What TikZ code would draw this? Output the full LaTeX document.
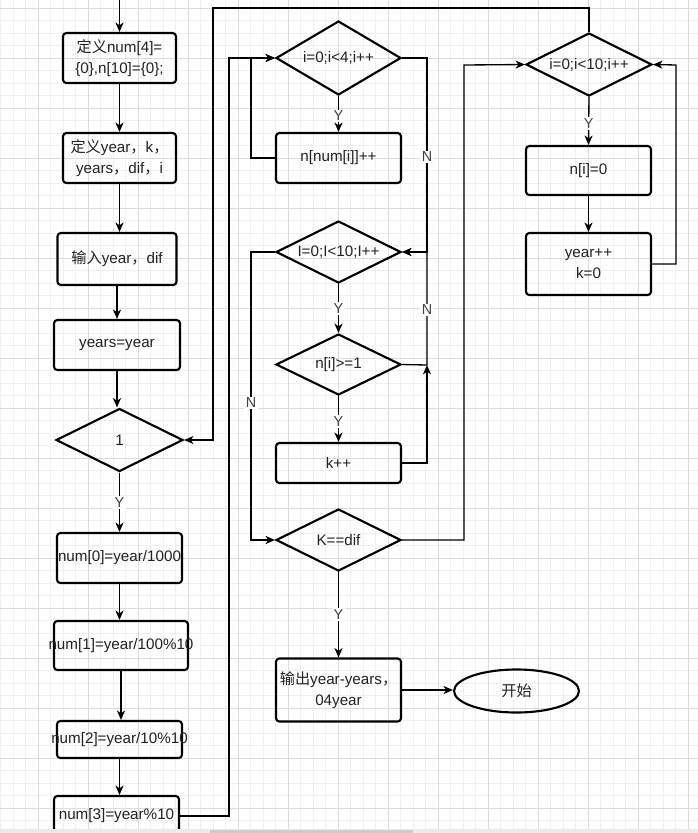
\documentclass[tikz,border=0pt]{standalone}
\usepackage{fontspec}
\setmainfont{Liberation Sans}
\newfontfamily\cjk{Noto Sans CJK SC}
\usetikzlibrary{arrows.meta,shapes.geometric}
\newdimen\px \px=0.75pt
\newcommand\T[1]{\makebox[0pt]{#1}}
\definecolor{gridminor}{HTML}{F0F0F0}
\definecolor{gridmajor}{HTML}{DCDCDC}
\definecolor{txt}{HTML}{222222}
\begin{document}
\begin{tikzpicture}[x=0.75pt,y=-0.75pt,
  box/.style args={#1/#2}{draw, line width=1.6pt, rounded corners=2.5pt, rectangle,
    minimum width=#1\px, minimum height=#2\px, inner sep=0pt, align=center,
    font=\fontsize{11.4}{15.5}\selectfont, text=txt},
  dia/.style args={#1/#2}{draw, diamond, line width=1.6pt,
    minimum width=#1\px, minimum height=#2\px, inner sep=0pt, align=center,
    font=\fontsize{11.4}{15.5}\selectfont, text=txt},
  term/.style args={#1/#2}{draw, ellipse, line width=1.6pt,
    minimum width=#1\px, minimum height=#2\px, inner sep=0pt,
    font=\fontsize{11.4}{15.5}\selectfont, text=txt},
  con/.style={line width=1pt, -{Stealth[length=7pt,width=6pt,inset=2pt]}},
  lab/.style={fill=white, inner sep=1pt, font=\fontsize{10.8}{12}\selectfont, text=black!75}]
\useasboundingbox (0,0) rectangle (698,833);
\fill[white] (0,0) rectangle (698,833);
% grid
\foreach \gx in {0.5,13,...,698} \draw[gridminor, line width=0.5pt] (\gx,0) -- (\gx,833);
\foreach \gy in {8,20.5,...,833} \draw[gridminor, line width=0.5pt] (0,\gy) -- (698,\gy);
\foreach \gx in {38,88,...,698} \draw[gridmajor, line width=0.6pt] (\gx,0) -- (\gx,833);
\foreach \gy in {8,58,...,833} \draw[gridmajor, line width=0.6pt] (0,\gy) -- (698,\gy);

% left column
\node[box=113/50] (b1) at (119.5,58) {\T{{\cjk 定义}num[4]=}\\\T{\{0\},n[10]=\{0\};}};
\node[box=113/50] (b2) at (119.5,158) {\T{{\cjk 定义}year{\cjk ，}k{\cjk ，}}\\\T{years{\cjk ，}dif{\cjk ，}i}};
\node[box=119/52] (b3) at (117,259) {\T{{\cjk 输入}year{\cjk ，}dif}};
\node[box=126/50] (b4) at (117,345) {\T{years=year}};
\node[dia=127/63] (d1) at (119.5,440) {\T{1}};
\node[box=125/50] (b5) at (119.5,558) {\T{num[0]=year/1000}};
\node[box=134/49] (b6) at (121,645.5) {\T{num[1]=year/100\%10}};
\node[box=125/37] (b7) at (119.5,739.5) {\T{num[2]=year/10\%10}};
\node[box=125/40] (b8) at (116.5,816) {\T{num[3]=year\%10}};

% middle column
\node[dia=125/74] (dA) at (338.5,58) {\T{i=0;i<4;i++}};
\node[box=125/50] (bA1) at (338.5,158) {\T{n[num[i]]++}};
\node[dia=125/62] (dB) at (338.5,252) {\T{I=0;I<10;I++}};
\node[dia=125/61] (dC) at (338.5,364.5) {\T{n[i]>=1}};
\node[box=125/40] (bK) at (338.5,463) {\T{k++}};
\node[dia=125/62] (dD) at (338.5,540) {\T{K==dif}};
\node[box=125/63] (bF) at (338.5,690) {\T{{\cjk 输出}year-years{\cjk ，}}\\\T{04year}};
\node[term=125/43] (ell) at (516.5,691) {\cjk 开始};

% right column
\node[dia=126/63] (dE) at (589,64.5) {\T{i=0;i<10;i++}};
\node[box=125/49] (bE1) at (588.5,170.5) {\T{n[i]=0}};
\node[box=125/62] (bE2) at (588.5,264) {\T{year++}\\\T{k=0}};

% helper coordinates
\coordinate (start) at (119.5,0);
\coordinate (t1) at (213,8);
\coordinate (c229) at (229,58);
\coordinate (c251a) at (251,58);
\coordinate (c251b) at (251,252);
\coordinate (c427a) at (427,58);
\coordinate (c427c) at (427,365);
\coordinate (c464) at (464,65);
\coordinate (c676) at (676,65);

% left column connectors
\draw[con] (start) -- (b1.north);
\draw[con] (b1.south) -- (b1.south |- b2.north);
\draw[con] (b2.south) -- (b2.south |- b3.north);
\draw[con] (b3.south) -- (b3.south |- b4.north);
\draw[con] (b4.south) -- (b4.south |- d1.north);
\draw[con] (d1.south) -- node[lab, pos=0.5] {Y} (d1.south |- b5.north);
\draw[con] (b5.south) -- (b5.south |- b6.north);
\draw[con] (b6.south) -- (b6.south |- b7.north);
\draw[con] (b7.south) -- (b7.south |- b8.north);

% loops
\draw[con] (dE.north) |- (t1) |- (d1.east);
\draw[con] (b8.east) -| (c229) -- (dA.west);
\draw[con] (bA1.west) -| (c251a) -- (dA.west);
\draw[con] (dA.south) -- node[lab, pos=0.55] {Y} (bA1.north);
\draw[con] (dA.east) -- (c427a) |- (dB.east);
\node[lab] at (427,157) {N};
\draw[con] (dB.south) -- node[lab, pos=0.5] {Y} (dC.north);
\draw[con] (dC.south) -- node[lab, pos=0.55] {Y} (bK.north);
\draw[con] (dC.east) -- (c427c) |- (dB.east);
\node[lab] at (427,310) {N};
\draw[con] (bK.east) -| (c427c);
\draw[con] (dB.west) -- (c251b) |- (dD.west);
\node[lab] at (251,403) {N};
\draw[con] (dD.east) -| (c464) -- (dE.west);
\draw[con] (dD.south) -- node[lab, pos=0.5] {Y} (bF.north);
\draw[con] (bF.east) -- (bF.east -| ell.west);
\draw[con] (dE.south) -- node[lab, pos=0.55] {Y} (bE1.north);
\draw[con] (bE1.south) -- (bE2.north);
\draw[con] (bE2.east) -| (c676) -- (dE.east);

% bottom scroll strip
\fill[black!8] (0,829) rectangle (698,833);
\fill[black!20] (210,830) rectangle (413,833);
\end{tikzpicture}
\end{document}
